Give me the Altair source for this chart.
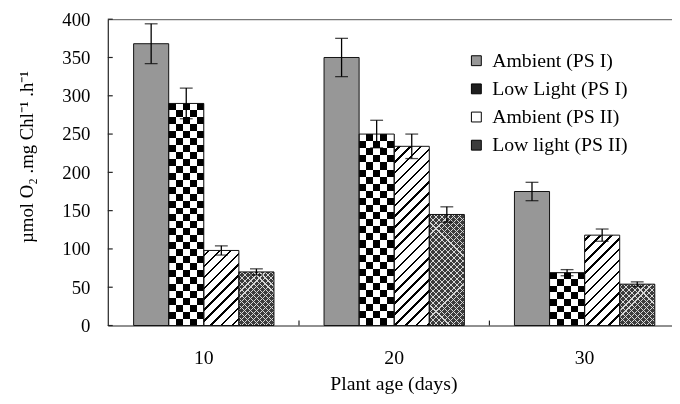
import altair as alt
import pandas as pd

# ---------------- data ----------------
groups = ["10", "20", "30"]
series = ["Ambient (PS I)", "Low Light (PS I)", "Ambient (PS II)", "Low light (PS II)"]
ambient_ps1 = [368, 350, 175]
ambient_ps1_err = [26, 25, 12]
lowlight_ps1 = [290, 250, 69]
lowlight_ps1_err = [20, 18, 4]
ambient_ps2 = [98, 234, 118]
ambient_ps2_err = [6, 16, 8]
lowlight_ps2 = [70, 145, 54]
lowlight_ps2_err = [4, 10, 3]
y_ticks = [0, 50, 100, 150, 200, 250, 300, 350, 400]
x_divider_before = ["20", "30"]   # ticks sit in the gap before these groups

values = [ambient_ps1, lowlight_ps1, ambient_ps2, lowlight_ps2]
errors = [ambient_ps1_err, lowlight_ps1_err, ambient_ps2_err, lowlight_ps2_err]

rows = []
for s, vals, errs in zip(series, values, errors):
    for g, v, e in zip(groups, vals, errs):
        rows.append({"group": g, "series": s, "value": v, "err": e,
                     "lo": v - e, "hi": v + e})
df = pd.DataFrame(rows)
df_xt = pd.DataFrame({"group": x_divider_before})
df_yt = pd.DataFrame({"tick": y_ticks})

# ---------------- layout / style ----------------
SERIF = "Liberation Serif"
PLOT_W, PLOT_H = 571, 310
PAD = {"left": 101, "top": 9, "right": 0, "bottom": 69}
P_IN, P_OUT, ALIGN = 0.263, 0.113, 0.6
STEP = PLOT_W / (len(groups) - P_IN + 2 * P_OUT)
BAR_W = STEP * (1 - P_IN) / len(series)
GAP = STEP * P_IN
PX_PER_UNIT = PLOT_H / 400.0
fill_colors = ["#979797", "#1e1e1e", "#ffffff", "#3c3c3c"]
TICK_LEN = 5
CLEAR = "rgba(255,255,255,0)"


def sharp_stops(segments):
    """segments: list of (start, end, color) in 0..1, contiguous"""
    stops = []
    for a, b, c in segments:
        a = min(max(a, 0.0), 1.0)
        b = min(max(b, 0.0), 1.0)
        stops.append(alt.GradientStop(offset=a, color=c))
        stops.append(alt.GradientStop(offset=b, color=c))
    return stops


def stripes(n, c_even, c_odd):
    return [(i / n, (i + 1) / n, c_even if i % 2 == 0 else c_odd) for i in range(n)]


# checkerboard: columns (x) xor rows (y, via difference blend)
N_COLS = 5
grad_cols = alt.LinearGradient(gradient="linear", x1=0, y1=0, x2=1, y2=0,
                               stops=sharp_stops(stripes(N_COLS, "black", "white")))


def grad_rows(value):
    h = value * PX_PER_UNIT
    n = max(1, round(h / (BAR_W / N_COLS)))
    return alt.LinearGradient(gradient="linear", x1=0, y1=1, x2=0, y2=0,
                              stops=sharp_stops(stripes(n, "white", "black")))


def grad_diag(value, period, lw, bg, fg, rising=True, phase=0.5):
    """45-degree lines inside one bar ("/" if rising else "\\")."""
    w = BAR_W
    h = value * PX_PER_UNIT
    k = w / (w * w + h * h)
    segs = []
    pos = 0.0
    s = period * phase
    while s - lw / 2 < w + h:
        a, b = (s - lw / 2) * k, (s + lw / 2) * k
        segs.append((pos, max(a, pos), bg))
        segs.append((max(a, pos), b, fg))
        pos = b
        s += period
    segs.append((pos, 1.0, bg))
    if rising:
        x1, y1, x2, y2 = 0, 0, 1, h / w
    else:
        x1, y1, x2, y2 = 0, 1, 1, 1 - h / w
    return alt.LinearGradient(gradient="linear", x1=x1, y1=y1, x2=x2, y2=y2,
                              stops=sharp_stops(segs))


xscale = alt.Scale(domain=groups, paddingInner=P_IN, paddingOuter=P_OUT, align=ALIGN)
yscale = alt.Scale(domain=[0, 400], nice=False, zero=True)
xo = alt.XOffset("series:N", scale=alt.Scale(domain=series, paddingInner=0, paddingOuter=0))

main_x_axis = alt.Axis(
    orient="bottom", ticks=False, tickSize=0, labelFont=SERIF, labelFontSize=20,
    labelColor="black", labelAngle=0, labelPadding=22, domainColor="#222",
    domainWidth=1.2, grid=False,
    title="Plant age (days)", titleFont=SERIF, titleFontSize=20, titleFontWeight="normal",
    titleColor="black", titleX=289, titleY=59, titleBaseline="middle", titleAlign="center")

main_y_axis = alt.Axis(
    orient="left", values=y_ticks, ticks=False, tickSize=0, labelFont=SERIF,
    labelFontSize=19, labelColor="black", labelPadding=18, domainColor="#222",
    domainWidth=1.2, grid=True, gridColor="#777", gridWidth=1.2,
    gridOpacity={"condition": {"test": "datum.value === 400", "value": 1}, "value": 0},
    title="µmol O₂ .mg Chl⁻¹ .h⁻¹", titleFont=SERIF, titleFontSize=19,
    titleFontWeight="normal", titleColor="black", titleAngle=270,
    titleX=-82, titleY=139, titleAlign="center", titleBaseline="middle")

XN = alt.X("group:N", scale=xscale, axis=None)
YN = alt.Y("value:Q", scale=yscale, axis=None)

base = alt.Chart(df).mark_bar(strokeWidth=0).encode(
    x=alt.X("group:N", scale=xscale, axis=main_x_axis),
    xOffset=xo,
    y=alt.Y("value:Q", scale=yscale, axis=main_y_axis),
    color=alt.Color("series:N", scale=alt.Scale(domain=series, range=fill_colors),
                    legend=alt.Legend(title=None, orient="none", legendX=363, legendY=32,
                                      symbolType="square", symbolSize=100,
                                      symbolStrokeColor="black", symbolStrokeWidth=1,
                                      labelFont=SERIF, labelFontSize=20, labelColor="black",
                                      rowPadding=8.5, labelOffset=6, padding=0)),
)

layers = [base]

# Low Light (PS I): checkerboard
layers.append(alt.Chart(df).transform_filter(alt.datum.series == series[1])
              .mark_bar(fill=grad_cols, strokeWidth=0)
              .encode(x=XN, xOffset=xo, y=YN))
for g, v in zip(groups, lowlight_ps1):
    layers.append(alt.Chart(df)
                  .transform_filter((alt.datum.series == series[1]) & (alt.datum.group == g))
                  .mark_bar(fill=grad_rows(v), strokeWidth=0, blend="difference")
                  .encode(x=XN, xOffset=xo, y=YN))

# Ambient (PS II): diagonal lines
for g, v in zip(groups, ambient_ps2):
    layers.append(alt.Chart(df)
                  .transform_filter((alt.datum.series == series[2]) & (alt.datum.group == g))
                  .mark_bar(fill=grad_diag(v, 11.0, 2.6, "white", "black"), strokeWidth=0)
                  .encode(x=XN, xOffset=xo, y=YN))

# Low light (PS II): dark crosshatch with light lines
for g, v in zip(groups, lowlight_ps2):
    for rising in (True, False):
        layers.append(alt.Chart(df)
                      .transform_filter((alt.datum.series == series[3]) & (alt.datum.group == g))
                      .mark_bar(fill=grad_diag(v, 6.0, 1.1, CLEAR, "#d8d8d8", rising), strokeWidth=0)
                      .encode(x=XN, xOffset=xo, y=YN))

outline = alt.Chart(df).mark_bar(fillOpacity=0, stroke="#111", strokeWidth=1).encode(
    x=XN, xOffset=xo, y=YN)
layers.append(outline)

# inside ticks
x_ticks = alt.Chart(df_xt).mark_rule(color="#222", strokeWidth=1.2, xOffset=-GAP / 2).encode(
    x=alt.X("group:N", scale=xscale, axis=None, bandPosition=0),
    y=alt.value(PLOT_H - TICK_LEN), y2=alt.value(PLOT_H))
y_tick_marks = alt.Chart(df_yt).mark_rule(color="#222", strokeWidth=1.2).encode(
    y=alt.Y("tick:Q", scale=yscale, axis=None),
    x=alt.value(0), x2=alt.value(TICK_LEN))
layers += [x_ticks, y_tick_marks]

rule = alt.Chart(df).mark_rule(color="black", strokeWidth=1.3).encode(
    x=XN, xOffset=xo,
    y=alt.Y("lo:Q", scale=yscale, axis=None), y2="hi:Q")
cap_hi = alt.Chart(df).mark_tick(color="black", thickness=1.3, size=13, orient="horizontal").encode(
    x=XN, xOffset=xo, y=alt.Y("hi:Q", scale=yscale, axis=None))
cap_lo = alt.Chart(df).mark_tick(color="black", thickness=1.3, size=13, orient="horizontal").encode(
    x=XN, xOffset=xo, y=alt.Y("lo:Q", scale=yscale, axis=None))
layers += [rule, cap_hi, cap_lo]

chart = (alt.layer(*layers)
         .resolve_axis(x="independent", y="independent")
         .properties(width=PLOT_W, height=PLOT_H,
                     autosize=alt.AutoSizeParams(type="none"), padding=PAD,
                     background="white")
         .configure_view(stroke=None))

chart.save("out.html", embed_options={"renderer": "svg", "actions": False})
